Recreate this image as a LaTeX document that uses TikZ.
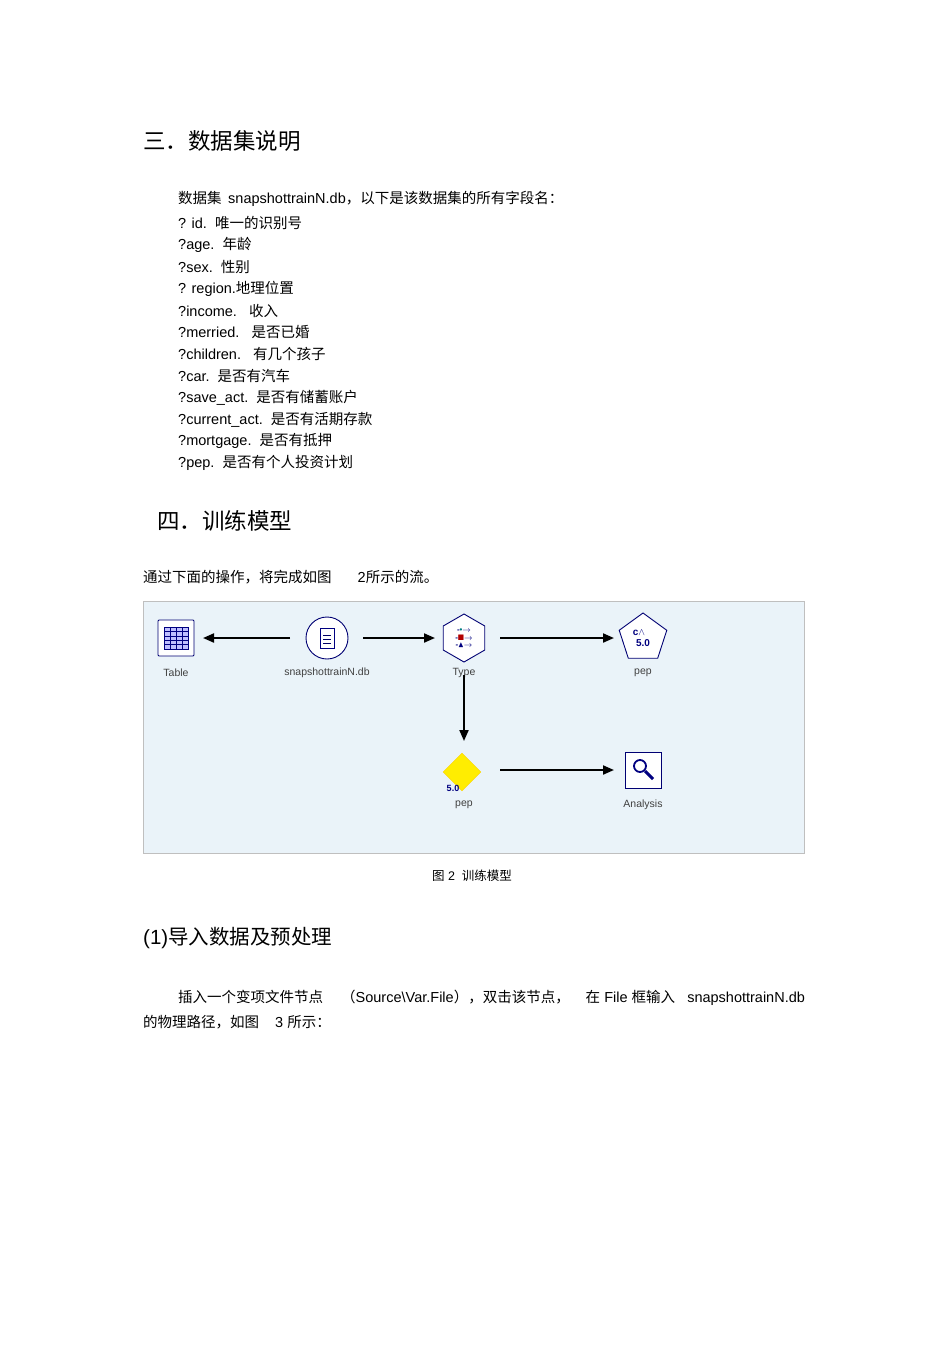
\documentclass[tikz,border=0pt]{standalone}
\usepackage{amssymb}
\usepackage{fontspec}
\setmainfont{Liberation Sans}
\newfontfamily\cjk{Noto Sans CJK SC}
\usetikzlibrary{shapes.geometric,arrows.meta}
\definecolor{boxbg}{RGB}{234,243,249}
\begin{document}
\begin{tikzpicture}[x=1pt,y=-1pt,
  txt/.style={anchor=west,inner sep=0,font=\fontsize{14.5}{14.5}\selectfont},
  hd/.style={anchor=west,inner sep=0,font=\fontsize{22.5}{22.5}\selectfont},
  lbl/.style={inner sep=0,font=\fontsize{10.5}{11}\selectfont,text=black!75},
  conn/.style={line width=2pt,-{Triangle[length=11pt,width=9pt]}},
  icon/.style={draw=blue!45!black,line width=0.9pt,fill=white}]
\useasboundingbox (0,0) rectangle (950,1345);
\fill[white] (0,0) rectangle (950,1345);
\node[hd] (h3) at (143,141) {\cjk 三．数据集说明};
\node[txt] (l0) at (178,199) {\cjk 数据集\ \ \normalfont snapshottrainN.db\cjk ，以下是该数据集的所有字段名：};
\node[txt] (l1) at (178,223) {? id.\ \ {\cjk 唯一的识别号}};
\node[txt] (l2) at (178,245) {?age.\ \ {\cjk 年龄}};
\node[txt] (l3) at (178,267) {?sex.\ \ {\cjk 性别}};
\node[txt] (l4) at (178,289) {? region.{\cjk 地理位置}};
\node[txt] (l5) at (178,311) {?income.\ \ \ {\cjk 收入}};
\node[txt] (l6) at (178,332) {?merried.\ \ \ {\cjk 是否已婚}};
\node[txt] (l7) at (178,354) {?children.\ \ \ {\cjk 有几个孩子}};
\node[txt] (l8) at (178,376) {?car.\ \ {\cjk 是否有汽车}};
\node[txt] (l9) at (178,398) {?save\_act.\ \ {\cjk 是否有储蓄账户}};
\node[txt] (l10) at (178,420) {?current\_act.\ \ {\cjk 是否有活期存款}};
\node[txt] (l11) at (178,441) {?mortgage.\ \ {\cjk 是否有抵押}};
\node[txt] (l12) at (178,463) {?pep.\ \ {\cjk 是否有个人投资计划}};
\node[hd] (h4) at (157,521) {\cjk 四．训练模型};
\node[txt] (p1) at (143,577) {{\cjk 通过下面的操作，将完成如图}\hspace{26pt}2{\cjk 所示的流。}};
% diagram
\node[draw=black!25,fill=boxbg,minimum width=661pt,minimum height=252pt,inner sep=0,anchor=north west] (box) at (143,601) {};
\node[icon,minimum size=36pt,inner sep=0,rounded corners=1pt] (tab) at (176,638) {};
\draw[blue!50!black,fill=blue!25] ([shift={(-12pt,11pt)}]tab.center) rectangle ([shift={(12pt,-11pt)}]tab.center);
\foreach \j in {1,2,3,4} \draw[blue!50!black,line width=0.4pt] ([shift={(-12pt,11pt-\j*4.4pt)}]tab.center) -- ++(24pt,0);
\foreach \j in {1,2,3} \draw[blue!50!black,line width=0.4pt] ([shift={(-12pt+\j*6pt,11pt)}]tab.center) -- ++(0,-22pt);
\node[icon,circle,minimum size=42pt,inner sep=0] (snap) at (327,638) {};
\draw[blue!50!black,fill=white] ([shift={(-7pt,10pt)}]snap.center) rectangle ([shift={(7pt,-10pt)}]snap.center);
\foreach \j in {1,2,3} \draw[blue!40!black,line width=0.5pt] ([shift={(-4pt,7pt-\j*4pt)}]snap.center) -- ++(8pt,0);
\node[icon,regular polygon,regular polygon sides=6,shape border rotate=90,minimum size=48pt,inner sep=0] (type) at (464,638) {};
\node[inner sep=0,font=\fontsize{8}{6}\selectfont\bfseries,text=blue!50!black] at (type.center) {\shortstack{-{\color{teal}\textbullet}$\to$\\-{\color{red!70!black}$\blacksquare$}$\to$\\-{$\blacktriangle$}$\to$}};
\node[icon,regular polygon,regular polygon sides=5,minimum size=50pt,inner sep=0] (pep1) at (643,638) {};
\node[inner sep=0,font=\fontsize{10}{10}\selectfont\bfseries,text=blue!50!black] at ([yshift=-5pt]pep1.center) {5.0};
\node[inner sep=0,font=\fontsize{10}{10}\selectfont\bfseries,text=blue!50!black] at ([shift={(-4pt,5pt)}]pep1.center) {c$\wedge$};
\node[diamond,fill=yellow!95!orange,draw=yellow!70!orange,minimum width=38pt,minimum height=38pt,inner sep=0] (pep2) at (462,772) {};
\node[inner sep=0,font=\fontsize{9}{9}\selectfont\bfseries,text=blue!50!black] at (453,788) {5.0};
\node[icon,minimum size=36pt,inner sep=0] (ana) at (643,770) {};
\draw[blue!50!black,line width=1.8pt] ([shift={(-3pt,4pt)}]ana.center) circle (6pt);
\draw[blue!50!black,line width=3pt] ([shift={(2pt,-1pt)}]ana.center) -- ++(8pt,-8pt);
\node[lbl] (ltab) at (176,673) {Table};
\node[lbl] (lsnap) at (327,673) {snapshottrainN.db};
\node[lbl] (ltype) at (464,673) {Type};
\node[lbl] (lpep1) at (643,673) {pep};
\node[lbl] (lpep2) at (464,805) {pep};
\node[lbl] (lana) at (643,805) {Analysis};
\coordinate (a1) at (290,638); \coordinate (a2) at (203,638);
\coordinate (b1) at (363,638); \coordinate (b2) at (435,638);
\coordinate (c1) at (500,638); \coordinate (c2) at (614,638);
\coordinate (d1) at (464,675); \coordinate (d2) at (464,741);
\coordinate (e1) at (500,770); \coordinate (e2) at (614,770);
\draw[conn] (a1) -- (a2);
\draw[conn] (b1) -- (b2);
\draw[conn] (c1) -- (c2);
\draw[conn] (d1) -- (d2);
\draw[conn] (e1) -- (e2);
\node[inner sep=0,font=\fontsize{12.5}{12.5}\selectfont] (cap) at (472,876) {{\cjk 图} 2\ \ {\cjk 训练模型}};
\node[hd,font=\fontsize{20.5}{20.5}\selectfont] (h5) at (143,938) {(1){\cjk 导入数据及预处理}};
\node[txt] (p2) at (178,998) {{\cjk 插入一个变项文件节点}\hspace{18pt}{\cjk （}Source\textbackslash Var.File{\cjk ），双击该节点，}\hspace{16pt}{\cjk 在}\ File\ {\cjk 框输入}\ \ \ snapshottrainN.db};
\node[txt] (p3) at (143,1022) {{\cjk 的物理路径，如图}\hspace{16pt}3 {\cjk 所示：}};
\end{tikzpicture}
\end{document}
